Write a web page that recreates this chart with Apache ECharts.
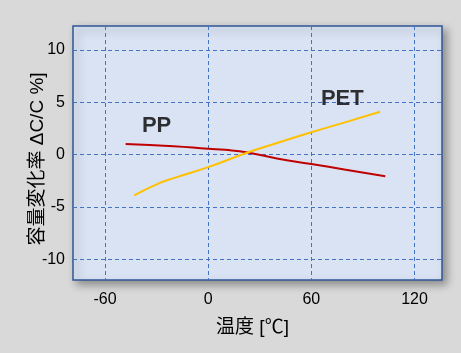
<!DOCTYPE html>
<html>
<head>
<meta charset="utf-8">
<script src="https://cdn.jsdelivr.net/npm/echarts@6/dist/echarts.min.js"></script>
<style>
  html, body { margin: 0; padding: 0; background: #d9d9d9; }
  #chart { width: 461px; height: 353px; }
</style>
</head>
<body>
<div id="chart"></div>
<script>
// data
var xTicks = [-60, 0, 60, 120]
var yTicks = [-10, -5, 0, 5, 10]
var ppData = [[-48, 1.0], [-20, 0.8], [0, 0.55], [10, 0.45], [23, 0.2], [40, -0.38], [60, -0.9], [80, -1.45], [103, -2.07]]
var petData = [[-43, -3.9], [-30, -2.85], [-20, -2.25], [0, -1.2], [23, 0.2], [40, 1.1], [60, 2.13], [80, 3.1], [100, 4.1]]
var seriesLabels = [['PP', -30, 2.7], ['PET', 78, 5.3]]

var chart = echarts.init(document.getElementById('chart'))
var font = '"Liberation Sans", Arial, sans-serif'
var cjk = '"Liberation Sans", "Noto Sans CJK JP", sans-serif'

var option = {
  backgroundColor: '#d9d9d9',
  animation: false,
  grid: {
    left: 73, top: 26, right: 19, bottom: 73,
    show: true,
    backgroundColor: '#dae3f3',
    borderColor: '#2f5597',
    borderWidth: 1.5,
    shadowColor: 'rgba(0,0,0,0.35)',
    shadowBlur: 8,
    shadowOffsetX: 4,
    shadowOffsetY: 4
  },
  xAxis: {
    type: 'value',
    min: -78.6,
    max: 136,
    name: '温度 [℃]',
    nameLocation: 'middle',
    nameGap: 38,
    nameMoveOverlap: false,
    nameTextStyle: { fontSize: 19, color: '#000', fontFamily: cjk, padding: [0, 10, 0, 0] },
    axisLine: { show: false },
    axisTick: { show: false, customValues: xTicks },
    axisLabel: { customValues: xTicks, fontSize: 16, color: '#000', margin: 12, fontFamily: font },
    splitLine: { show: true, lineStyle: { color: '#4472c4', type: [4, 3], width: 1 } }
  },
  yAxis: {
    type: 'value',
    min: -12,
    max: 12.3,
    name: '容量変化率 ΔC/C %]',
    nameLocation: 'middle',
    nameGap: 26,
    nameMoveOverlap: false,
    nameTextStyle: { fontSize: 19, color: '#000', fontFamily: cjk, padding: [0, 12, 0, 0] },
    axisLine: { show: false },
    axisTick: { show: false, customValues: yTicks },
    axisLabel: { customValues: yTicks, fontSize: 16, color: '#000', margin: 8, fontFamily: font },
    splitLine: { show: true, lineStyle: { color: '#4472c4', type: [4, 3], width: 1 } }
  },
  series: [
    {
      name: 'PP',
      type: 'line',
      data: ppData,
      smooth: true,
      showSymbol: false,
      lineStyle: { color: '#c00000', width: 2 }
    },
    {
      name: 'PET',
      type: 'line',
      data: petData,
      smooth: true,
      showSymbol: false,
      lineStyle: { color: '#ffc000', width: 2 }
    },
    {
      type: 'scatter',
      symbolSize: 0,
      data: seriesLabels.map(function (d) { return { value: [d[1], d[2]], name: d[0] } }),
      label: {
        show: true,
        position: 'inside',
        formatter: '{b}',
        fontSize: 22,
        fontWeight: 'bold',
        color: '#000',
        textBorderWidth: 0,
        fontFamily: font
      }
    }
  ]
}
chart.setOption(option)
</script>
</body>
</html>
